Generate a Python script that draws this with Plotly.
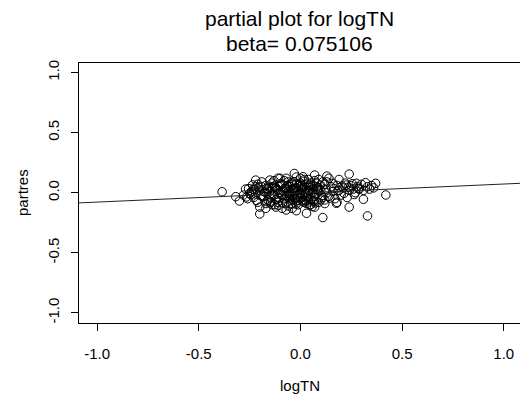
import plotly.graph_objects as go

# Data
x_vals = [
    -0.385, -0.318, -0.30, -0.20, -0.22, -0.03, 0.03, 0.11, 0.24, 0.31, 0.33, 0.42, 0.24, 0.19, 0.13,
    0.07, 0.37, 0.32, 0.275, 0.226, 0.16, 0.013, -0.10, -0.15, -0.167, -0.233, -0.25, -0.126, -0.02,
    0.046, 0.12, 0.177, -0.07,
    -0.20, -0.18, -0.17, -0.16, -0.15, -0.14, -0.13, -0.12, -0.11, -0.10, -0.09, -0.08, -0.07, -0.06,
    -0.05, -0.04, -0.03, -0.02, -0.01, 0.00, 0.01, 0.02, 0.03, 0.04, 0.05, 0.06, 0.07, 0.08, 0.09, 0.10,
    -0.19, -0.17, -0.15, -0.13, -0.12, -0.10, -0.09, -0.08, -0.07, -0.06, -0.05, -0.04, -0.03, -0.02,
    -0.01, 0.00, 0.01, 0.02, 0.03, 0.04, 0.05, 0.06, 0.07, 0.08, 0.09, 0.11, 0.12, 0.13, 0.14, 0.15,
    -0.22, -0.21, -0.14, -0.11, -0.09, -0.06, -0.05, -0.04, -0.03, -0.02, -0.01, 0.00, 0.01, 0.02,
    0.03, 0.05, 0.06, 0.08, 0.10, 0.11,
    0.16, 0.17, 0.18, 0.19, 0.20, 0.21, 0.22, 0.23, 0.24, 0.25, 0.26, 0.27, 0.28, 0.29, 0.30, 0.31,
    0.33, 0.34, 0.35, 0.36,
    -0.28, -0.27, -0.26, -0.24, -0.23, -0.22, -0.21, -0.20, -0.19, -0.18, -0.17, -0.16, -0.14, -0.12,
    -0.11, -0.07, -0.04, -0.02, 0.00, 0.04, 0.07, 0.09, 0.12, 0.13, 0.14, 0.18,
    -0.085, -0.055, -0.035, -0.015, 0.015, 0.035, -0.095, -0.065, -0.045, -0.025, 0.005, 0.025,
    -0.075, -0.125, -0.145, 0.045, 0.065, 0.085,
    -0.105, -0.115, -0.135, -0.155, -0.165, -0.175, -0.185, -0.088, -0.078, -0.068, -0.058, -0.048,
    -0.038, -0.028, -0.018, -0.008, 0.002, 0.012, 0.022, 0.032, 0.042, 0.052, 0.062, 0.072,
    -0.098, -0.118, -0.138, -0.062, -0.042, -0.022, 0.008, 0.028, 0.048, 0.068, 0.088, 0.105,
    -0.108, -0.128, -0.148, -0.072, -0.052, -0.032, -0.012, 0.018, 0.038, 0.058, 0.078, 0.098,
    0.125, 0.145, 0.165, 0.185, 0.205, 0.215, 0.235, 0.255, 0.265, 0.285,
    -0.195, -0.205, -0.215, -0.225, -0.235, -0.245, -0.255, -0.265,
]
y_vals = [
    0.008, -0.033, -0.069, -0.177, 0.105, 0.16, -0.171, -0.207, -0.12, -0.055, -0.193, -0.019, 0.155,
    0.11, 0.138, 0.147, 0.078, 0.083, 0.078, 0.064, 0.078, 0.133, 0.12, 0.105, 0.036, 0.028, -0.005,
    -0.10, -0.15, -0.10, -0.06, -0.088, -0.144,
    0.02, -0.03, 0.06, -0.06, 0.01, 0.08, -0.02, 0.04, -0.08, 0.00, 0.07, -0.05, 0.03, -0.11,
    0.05, -0.03, 0.09, -0.07, 0.02, -0.04, 0.06, -0.01, 0.04, -0.06, 0.08, 0.00, -0.03, 0.05, -0.08, 0.02,
    0.05, -0.09, -0.04, 0.10, -0.12, 0.06, -0.02, 0.10, -0.09, 0.01, -0.06, 0.07, -0.01, 0.04,
    -0.10, 0.08, -0.06, 0.11, -0.09, 0.02, -0.02, 0.06, 0.10, -0.01, 0.04, -0.04, 0.07, 0.00, -0.03, 0.05,
    -0.01, 0.07, -0.10, 0.02, -0.13, 0.09, -0.01, -0.09, 0.03, -0.04, 0.06, -0.01, 0.03, -0.08,
    0.07, -0.10, 0.03, 0.08, -0.06, 0.09,
    0.01, -0.05, 0.06, 0.02, -0.02, 0.04, 0.08, -0.04, 0.02, 0.06, 0.03, 0.00, 0.05, 0.03, 0.07, 0.02,
    0.05, 0.03, 0.06, 0.04,
    -0.02, 0.03, -0.05, 0.01, -0.04, 0.05, -0.08, -0.12, 0.09, 0.01, -0.13, 0.03, 0.05, -0.06,
    0.12, 0.12, -0.13, 0.13, 0.12, 0.11, -0.12, 0.11, -0.09, 0.09, 0.12, -0.08,
    0.015, -0.045, 0.035, -0.025, 0.045, -0.035, -0.015, 0.055, 0.005, -0.055, 0.025, -0.065,
    -0.035, 0.045, -0.075, 0.015, -0.065, 0.025,
    -0.045, 0.025, -0.015, 0.045, -0.075, 0.005, -0.035, -0.085, 0.035, -0.025, 0.065, -0.095,
    0.015, -0.045, 0.075, -0.015, 0.055, -0.075, 0.005, -0.035, 0.045, -0.055, 0.025, -0.085,
    0.075, -0.055, 0.035, -0.005, 0.085, -0.095, 0.035, -0.045, 0.065, -0.075, 0.015, -0.025,
    -0.105, 0.055, -0.085, 0.045, -0.025, 0.015, -0.065, 0.095, -0.005, -0.115, 0.035, 0.065,
    0.025, -0.045, 0.035, 0.015, 0.055, -0.005, 0.045, 0.075, -0.015, 0.035,
    -0.025, 0.045, -0.065, 0.025, 0.065, -0.015, 0.035, -0.035,
]
beta = 0.075106
intercept = -0.003
line_x = [-1.09, 1.09]
line_y = [intercept + beta * v for v in line_x]

title_lines = ["partial plot for logTN", "beta= 0.075106"]
x_ticks = [-1.0, -0.5, 0.0, 0.5, 1.0]
y_ticks = [-1.0, -0.5, 0.0, 0.5, 1.0]
tick_text = ["-1.0", "-0.5", "0.0", "0.5", "1.0"]

FONT = "Liberation Sans, Arial, sans-serif"

fig = go.Figure()
fig.add_trace(go.Scatter(
    x=x_vals, y=y_vals, mode="markers",
    marker=dict(symbol="circle-open", size=8.5, color="black", line=dict(width=1, color="black")),
    showlegend=False, hoverinfo="skip"))
fig.add_trace(go.Scatter(
    x=line_x, y=line_y, mode="lines",
    line=dict(color="#222222", width=1),
    showlegend=False, hoverinfo="skip"))

fig.update_layout(
    width=520, height=399,
    margin=dict(l=79, r=0, t=63, b=76),
    paper_bgcolor="white", plot_bgcolor="white",
    font=dict(family=FONT, color="black", size=15),
    annotations=[
        dict(text=title_lines[0], xref="paper", yref="paper", x=0.5, y=(323 - 19) / 260,
             showarrow=False, font=dict(size=21, family=FONT), yanchor="middle"),
        dict(text=title_lines[1], xref="paper", yref="paper", x=0.5, y=(323 - 43) / 260,
             showarrow=False, font=dict(size=21, family=FONT), yanchor="middle"),
        dict(text="logTN", xref="paper", yref="paper", x=0.5, y=(323 - 385) / 260,
             showarrow=False, font=dict(size=15, family=FONT), yanchor="middle"),
        dict(text="partres", xref="paper", yref="paper", x=(22 - 79) / 441, y=0.5,
             showarrow=False, font=dict(size=15, family=FONT), textangle=-90,
             xanchor="center", yanchor="middle"),
    ],
)
fig.update_xaxes(
    range=[-1.089, 1.08], tickvals=x_ticks, ticktext=tick_text,
    showgrid=False, zeroline=False, showline=True, linecolor="black", linewidth=1,
    mirror=True, ticks="outside", ticklen=7, tickcolor="black", tickwidth=1,
    ticklabelstandoff=10, tickfont=dict(size=15),
)
fig.update_yaxes(
    range=[-1.084, 1.079], tickvals=y_ticks, ticktext=tick_text,
    showgrid=False, zeroline=False, showline=True, linecolor="black", linewidth=1,
    mirror=True, ticks="outside", ticklen=7, tickcolor="black", tickwidth=1,
    tickangle=-90, ticklabelstandoff=6, tickfont=dict(size=15),
)

fig.write_html("out.html")
